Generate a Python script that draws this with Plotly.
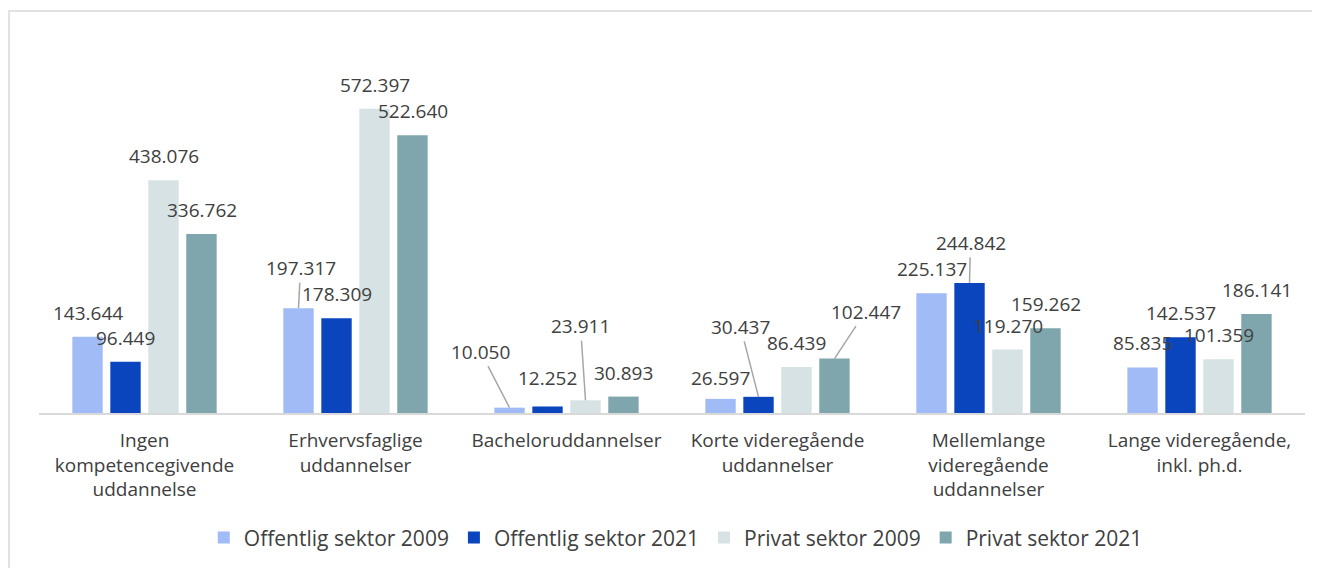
import plotly.graph_objects as go

categories = [
    "Ingen<br>kompetencegivende<br>uddannelse",
    "Erhvervsfaglige<br>uddannelser",
    "Bacheloruddannelser",
    "Korte videregående<br>uddannelser",
    "Mellemlange<br>videregående<br>uddannelser",
    "Lange videregående,<br>inkl. ph.d.",
]
series_names = ["Offentlig sektor 2009", "Offentlig sektor 2021", "Privat sektor 2009", "Privat sektor 2021"]
offentlig_2009 = [143644, 197317, 10050, 26597, 225137, 85835]
offentlig_2021 = [96449, 178309, 12252, 30437, 244842, 142537]
privat_2009 = [438076, 572397, 23911, 86439, 119270, 101359]
privat_2021 = [336762, 522640, 30893, 102447, 159262, 186141]
series_values = [offentlig_2009, offentlig_2021, privat_2009, privat_2021]
colors = ["#A0BBF6", "#0B45BE", "#D6E2E4", "#7FA6AD"]

FONT = "Open Sans"
TXT = "#404040"

# label placement: (category index, series index) -> (dx, dy) pixel offsets with leader line
leaders = {
    (1, 0): (2, -40),
    (2, 0): (-29, -56),
    (2, 2): (-5, -74),
    (3, 1): (-18, -70),
    (3, 3): (31, -47),
    (4, 1): (1, -40),
}
lift = {(2, 1): 28, (3, 0): 21}

fig = go.Figure()
for name, vals, col in zip(series_names, series_values, colors):
    fig.add_trace(go.Bar(x=categories, y=vals, name=name, marker=dict(color=col, line=dict(width=0))))

slot = 38
annotations = []
for si, vals in enumerate(series_values):
    xs = (si - 1.5) * slot
    for ci, v in enumerate(vals):
        label = f"{v:,}".replace(",", ".")
        if (ci, si) in leaders:
            ax, ay = leaders[(ci, si)]
            annotations.append(dict(
                x=categories[ci], y=v, xshift=xs, text=label, showarrow=True,
                ax=ax, ay=ay, arrowhead=0, arrowwidth=1.5, arrowcolor="#A6A6A6", standoff=0,
                font=dict(family=FONT, size=19, color=TXT)))
        else:
            annotations.append(dict(
                x=categories[ci], y=v, xshift=xs, yshift=lift.get((ci, si), 24), text=label,
                showarrow=False, font=dict(family=FONT, size=19, color=TXT)))

fig.update_layout(
    width=1312, height=560,
    margin=dict(l=31, r=15, t=33, b=155),
    paper_bgcolor="white", plot_bgcolor="white",
    barmode="group", bargap=0.28, bargroupgap=0.2,
    font=dict(family=FONT, color=TXT, size=19),
    xaxis=dict(showline=True, linecolor="#D9D9D9", linewidth=2, ticks="", showgrid=False,
               ticklabelstandoff=9, tickfont=dict(family=FONT, size=19, color=TXT)),
    yaxis=dict(range=[0, 700000], visible=False, showgrid=False),
    legend=dict(orientation="h", x=0.503, xanchor="center", yref="container", y=0.054, yanchor="middle",
                font=dict(family=FONT, size=21, color=TXT), traceorder="normal"),
    annotations=annotations,
    shapes=[dict(type="rect", xref="paper", yref="paper", x0=-0.0237, x1=1.05, y0=-0.6, y1=1.0806,
                 line=dict(color="#D9D9D9", width=1.5), fillcolor="rgba(0,0,0,0)", layer="below")],
)

fig.write_html("out.html")
